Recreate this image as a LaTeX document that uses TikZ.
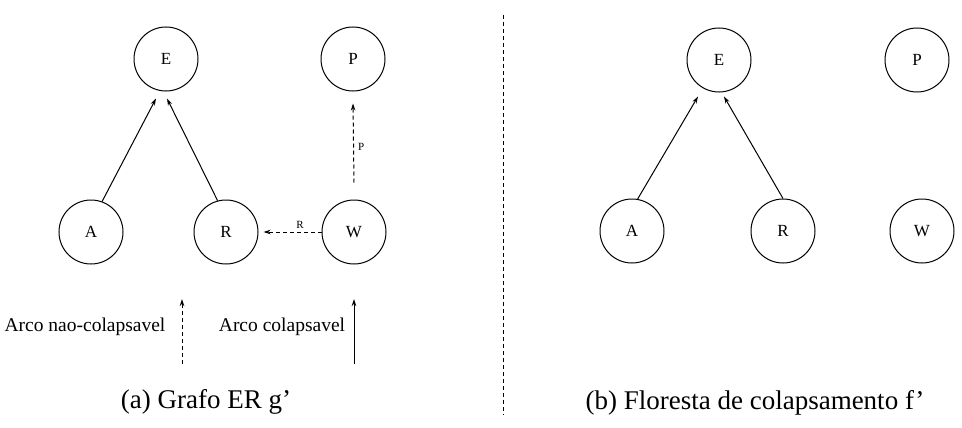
\documentclass[tikz,border=0pt]{standalone}
\usepackage{fontspec}
\setmainfont{Liberation Serif}
\usetikzlibrary{arrows.meta}
\begin{document}
\begin{tikzpicture}[x=1pt,y=-1pt,
  vtx/.style={draw,circle,line width=1pt,minimum size=64pt,inner sep=0pt,font=\fontsize{17}{18}\selectfont},
  arr/.style={line width=1pt,-{Stealth[length=7pt,width=4.5pt]}},
  darr/.style={arr,dash pattern=on 4pt off 3pt},
  elab/.style={font=\fontsize{11}{12}\selectfont,inner sep=0pt},
  leg/.style={font=\fontsize{19.5}{21}\selectfont,inner sep=0pt},
  captxt/.style={font=\fontsize{27}{29}\selectfont,inner sep=0pt}]
\useasboundingbox (0,0) rectangle (962,428);
% left panel
\node[vtx] (E1) at (166,59) {E};
\node[vtx] (P1) at (353,59) {P};
\node[vtx] (A1) at (91,232) {A};
\node[vtx] (R1) at (226,232) {R};
\node[vtx] (W1) at (354,232) {W};
\draw[arr] (A1.70) -- ([xshift=-10pt,yshift=-7pt]E1.south);
\draw[arr] (R1.105) -- ([xshift=1pt,yshift=-7pt]E1.south);
\draw[darr] (W1.west) -- ([xshift=5pt]R1.east) node[elab,pos=0.37,above=3pt] {R};
\draw[darr] ([yshift=17pt]W1.north) -- ([yshift=-12pt]P1.south) node[elab,pos=0.45,right=4pt] {P};
% legend
\node[leg] (l1) at (85,327) {Arco nao-colapsavel};
\node[leg] (l2) at (282,327) {Arco colapsavel};
\coordinate (d1) at (182,364); \coordinate (d2) at (182,299);
\coordinate (s1) at (354,364); \coordinate (s2) at (354,299);
\draw[darr] (d1) -- (d2);
\draw[arr] (s1) -- (s2);
\node[captxt] (ca) at (206,402) {(a) Grafo ER g’};
% separator
\coordinate (t1) at (503,15); \coordinate (t2) at (503,415);
\draw[line width=1pt,dash pattern=on 4pt off 3pt] (t1) -- (t2);
% right panel
\node[vtx] (E2) at (719,60) {E};
\node[vtx] (P2) at (917,60) {P};
\node[vtx] (A2) at (632,231) {A};
\node[vtx] (R2) at (783,231) {R};
\node[vtx] (W2) at (922,231) {W};
\draw[arr] (A2.80) -- ([xshift=-21pt,yshift=-4pt]E2.south);
\draw[arr] (R2.north) -- ([xshift=5pt,yshift=-4pt]E2.south);
\node[captxt] (cb) at (755,403) {(b) Floresta de colapsamento f’};
\end{tikzpicture}
\end{document}
